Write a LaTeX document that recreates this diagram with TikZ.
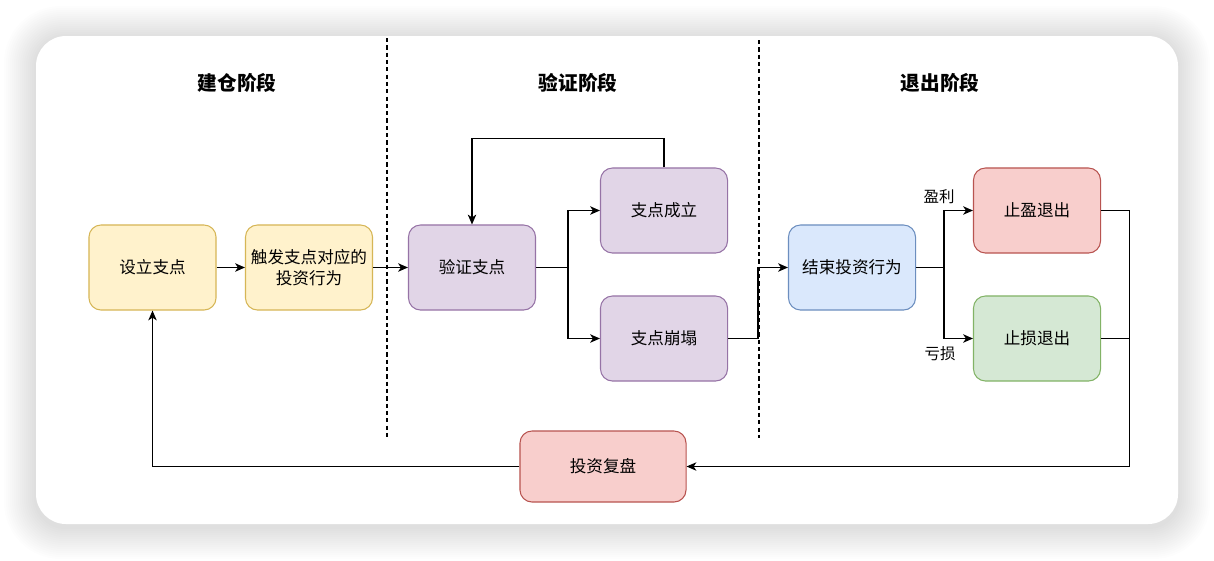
\documentclass[tikz,border=0pt]{standalone}
\usepackage{fontspec}
\setmainfont{Noto Sans CJK SC}
\usetikzlibrary{arrows.meta}

\definecolor{ylwfill}{HTML}{FFF2CC}
\definecolor{ylwline}{HTML}{D6B656}
\definecolor{prpfill}{HTML}{E1D5E7}
\definecolor{prpline}{HTML}{9673A6}
\definecolor{blufill}{HTML}{DAE8FC}
\definecolor{bluline}{HTML}{6C8EBF}
\definecolor{redfill}{HTML}{F8CECC}
\definecolor{redline}{HTML}{B85450}
\definecolor{grnfill}{HTML}{D5E8D4}
\definecolor{grnline}{HTML}{82B366}

\tikzset{
  stage/.style={rounded corners=0.3cm, minimum width=3.175cm, minimum height=2.125cm,
    align=center, line width=0.75pt, font=\fontsize{11.8}{15}\selectfont},
  ylwbox/.style={stage, fill=ylwfill, draw=ylwline},
  prpbox/.style={stage, fill=prpfill, draw=prpline},
  blubox/.style={stage, fill=blufill, draw=bluline},
  redbox/.style={stage, fill=redfill, draw=redline},
  grnbox/.style={stage, fill=grnfill, draw=grnline},
  phase/.style={font=\fontsize{14}{16}\selectfont\bfseries},
  tag/.style={font=\fontsize{11}{13}\selectfont},
  flow/.style={line width=0.8pt, -{Stealth[length=7pt, width=6pt, inset=2pt]}},
  divider/.style={line width=0.9pt, dash pattern=on 3pt off 2.2pt}
}

\begin{document}
\begin{tikzpicture}[x=0.025cm, y=-0.025cm]

\useasboundingbox (0,0) rectangle (1214,560);

% panel with soft shadow
\foreach \s [evaluate=\s as \r using 21+\s*1.2] in {1,...,16}
  \fill[black, opacity=0.008, rounded corners=\r pt]
    (36-2*\s,38-2*\s) rectangle (1178+2*\s,527+2*\s);
\fill[white, rounded corners=0.75cm] (36,36) rectangle (1178,524);

% phase titles
\node[phase] (build) at (237,83) {建仓阶段};
\node[phase] (check) at (578,83) {验证阶段};
\node[phase] (quit) at (940,83) {退出阶段};

\coordinate (d1top) at (387,38);
\coordinate (d1bot) at (387,438);
\coordinate (d2top) at (759,40);
\coordinate (d2bot) at (759,438);
\draw[divider] (d1top) -- (d1bot);
\draw[divider] (d2top) -- (d2bot);

% boxes
\node[ylwbox] (set) at (152.5,267.5) {设立支点};
\node[ylwbox] (trig) at (309,267.5) {触发支点对应的\\投资行为};
\node[prpbox] (verify) at (472,267.5) {验证支点};
\node[prpbox] (ok) at (664,210.5) {支点成立};
\node[prpbox] (bad) at (664,338.5) {支点崩塌};
\node[blubox] (end) at (852,267.5) {结束投资行为};
\node[redbox] (win) at (1037,210.5) {止盈退出};
\node[grnbox] (loss) at (1037,338.5) {止损退出};
\node[redbox, minimum width=4.15cm, minimum height=1.775cm] (review) at (603,466.5) {投资复盘};

\node[tag] (winlbl) at (939,197) {盈利};
\node[tag] (losslbl) at (940,354) {亏损};

% connectors
\draw[flow] (set) -- (trig);
\draw[flow] (trig) -- (verify);
\draw[flow] (verify.east) -- ++(32,0) |- (ok.west);
\draw[flow] (verify.east) -- ++(32,0) |- (bad.west);
\draw[flow] (ok.north) -- ++(0,-29) -| (verify.north);
\draw[flow] (bad.east) -- ++(30,0) |- (end.west);
\draw[flow] (end.east) -- ++(28,0) |- (win.west);
\draw[flow] (end.east) -- ++(28,0) |- (loss.west);
\draw[flow] (win.east) -- ++(28,0) |- (review.east);
\draw[line width=0.8pt] (loss.east) -- ++(28,0);
\draw[flow] (review.west) -| (set.south);

\end{tikzpicture}
\end{document}
